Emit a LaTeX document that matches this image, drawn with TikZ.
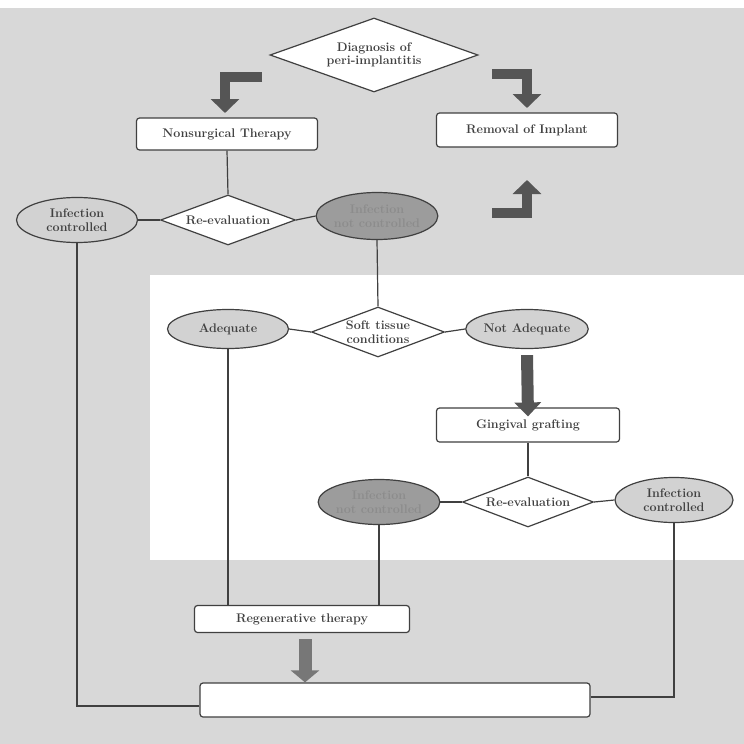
\documentclass[tikz,border=0pt]{standalone}
\usetikzlibrary{shapes.geometric,arrows.meta}
\definecolor{bggrey}{HTML}{D8D8D8}
\definecolor{ink}{HTML}{404040}
\definecolor{darkfill}{HTML}{9C9C9C}
\definecolor{lightfill}{HTML}{D2D2D2}
\definecolor{arrowgrey}{HTML}{555555}
\tikzset{
  x=1pt,y=-1pt,
  txt/.style={font=\fontsize{12.5}{13.5}\selectfont\bfseries, text=ink, align=center},
  boxnode/.style={txt, draw=ink, line width=1.2pt, fill=white, rounded corners=3pt, inner sep=0pt},
  dia/.style={txt, diamond, shape aspect=2.8, draw=ink, line width=1.2pt, fill=white, inner sep=0pt},
  ell/.style={txt, ellipse, draw=ink, line width=1.2pt, fill=lightfill, inner sep=0pt},
  dell/.style={ell, fill=darkfill, text=black!45},
  conn/.style={draw=ink, line width=1.2pt},
  fatarrow/.style={draw=arrowgrey, line width=10pt, line join=miter, -{Triangle[width=28pt,length=14pt]}},
}
\begin{document}
\begin{tikzpicture}
\useasboundingbox (0,0) rectangle (744,744);
\fill[bggrey] (0,8) rectangle (744,744);
\fill[white] (150,275) rectangle (744,560);

% nodes
\node[dia, minimum width=208pt, minimum height=74pt] (diag) at (374,55) {Diagnosis of\\peri-implantitis};
\node[boxnode, minimum width=181pt, minimum height=32pt] (nst) at (227,134) {Nonsurgical Therapy};
\node[boxnode, minimum width=181pt, minimum height=34pt] (rem) at (527,130) {Removal of Implant};
\node[dia, minimum width=135pt, minimum height=50pt] (re1) at (228,220) {Re-evaluation};
\node[ell, minimum width=121pt, minimum height=45pt] (ic1) at (77,220) {Infection\\controlled};
\node[dell, minimum width=118pt, minimum height=47pt] (inc1) at (377,216) {Infection\\not controlled};
\node[dia, minimum width=133pt, minimum height=50pt] (soft) at (378,332) {Soft tissue\\conditions};
\node[ell, minimum width=121pt, minimum height=39pt] (adeq) at (228,329) {Adequate};
\node[ell, minimum width=119pt, minimum height=39pt] (nadeq) at (527,329) {Not Adequate};
\node[boxnode, minimum width=183pt, minimum height=34pt] (ging) at (528,425) {Gingival grafting};
\node[dia, minimum width=131pt, minimum height=50pt] (re2) at (528,502) {Re-evaluation};
\node[dell, minimum width=118pt, minimum height=45pt] (inc2) at (379,502) {Infection\\not controlled};
\node[ell, minimum width=118pt, minimum height=45pt] (ic2) at (674,500) {Infection\\controlled};
\node[boxnode, minimum width=215pt, minimum height=27pt] (regen) at (302,619) {Regenerative therapy};
\node[boxnode, minimum width=390pt, minimum height=34pt] (final) at (395,700) {};

% connectors
\draw[conn] (nst.south) -- (re1.north);
\draw[conn] (re1.west) -- (ic1.east);
\draw[conn] (re1.east) -- (inc1.west);
\draw[conn] (inc1.south) -- (soft.north);
\draw[conn] (soft.west) -- (adeq.east);
\draw[conn] (soft.east) -- (nadeq.west);
\draw[conn] (ging.south) -- (re2.north);
\draw[conn] (re2.west) -- (inc2.east);
\draw[conn] (re2.east) -- (ic2.west);
\draw[conn] (adeq.south) -- (adeq.south |- regen.north);
\draw[conn] (inc2.south) -- (inc2.south |- regen.north);
\draw[conn] ([yshift=-6pt]final.west) -| (ic1.south);
\draw[conn] ([yshift=3pt]final.east) -| (ic2.south);

% fat arrows
\coordinate (a1s) at (262,77);
\coordinate (a1e) at (225,113);
\draw[fatarrow] (a1s) -| (a1e);
\coordinate (a2s) at (492,74);
\coordinate (a2e) at (527,108);
\draw[fatarrow] (a2s) -| (a2e);
\coordinate (a3s) at (492,213);
\coordinate (a3e) at (527,180);
\draw[fatarrow] (a3s) -| (a3e);
\draw[fatarrow, line width=12pt, -{Triangle[width=26pt,length=14pt]}] ([yshift=-6pt]nadeq.south) -- ([yshift=-9pt]ging.north);
\coordinate (a5s) at ([xshift=3pt,yshift=-6pt]regen.south);
\draw[fatarrow, draw=arrowgrey!80, line width=13pt, -{Triangle[width=28pt,length=12pt]}] (a5s) -- (a5s |- final.north);
\end{tikzpicture}
\end{document}
